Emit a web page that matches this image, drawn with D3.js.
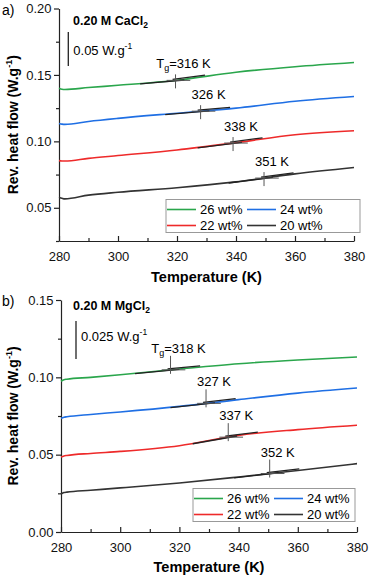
<!DOCTYPE html>
<html>
<head>
<meta charset="utf-8">
<script src="https://cdn.jsdelivr.net/npm/d3@7"></script>
<style>
  body { margin: 0; background: #fff; }
  svg { font-family: 'Liberation Sans', Arial, sans-serif; }
</style>
</head>
<body>
<script>
// temperatures (K) where the scans are sampled
const temps = [280, 281, 282, 290, 300, 320, 340, 360, 380];
const tempTicks = [280, 300, 320, 340, 360, 380];
const tempMinor = [290, 310, 330, 350, 370];
const seriesNames = ['26 wt%', '24 wt%', '22 wt%', '20 wt%'];
const seriesColors = ['#2aa64c', '#1f6fe4', '#ee2a2a', '#333333'];

// panel a) 0.20 M CaCl2, rev. heat flow (W/g)
const ca26 = [0.1400, 0.1392, 0.1390, 0.1405, 0.1422, 0.1460, 0.1520, 0.1562, 0.1594];
const ca24 = [0.1135, 0.1130, 0.1128, 0.1150, 0.1173, 0.1212, 0.1250, 0.1302, 0.1338];
const ca22 = [0.0855, 0.0852, 0.0852, 0.0872, 0.0893, 0.0935, 0.0990, 0.1050, 0.1080];
const ca20 = [0.0580, 0.0572, 0.0567, 0.0595, 0.0617, 0.0651, 0.0695, 0.0755, 0.0803];
const caTg = [316, 326, 338, 351];
const caCross = [319.5, 328, 339, 349.5];
const caTicks = [0.05, 0.10, 0.15, 0.20];
const caMinor = [0.025, 0.075, 0.125, 0.175];

// panel b) 0.20 M MgCl2
const mg26 = [0.0975, 0.0985, 0.0988, 0.1000, 0.1017, 0.1054, 0.1088, 0.1112, 0.1131];
const mg24 = [0.0735, 0.0742, 0.0745, 0.0760, 0.0776, 0.0812, 0.0856, 0.0898, 0.0931];
const mg22 = [0.0485, 0.0492, 0.0495, 0.0508, 0.0521, 0.0558, 0.0625, 0.0662, 0.0690];
const mg20 = [0.0245, 0.0255, 0.0258, 0.0270, 0.0285, 0.0317, 0.0356, 0.0398, 0.0442];
const mgTg = [318, 327, 337, 352];
const mgCross = [317, 329, 336.5, 350.5];
const mgTicks = [0.00, 0.05, 0.10, 0.15];
const mgMinor = [0.025, 0.075, 0.125];

const svg = d3.select('body').append('svg')
  .attr('width', 370)
  .attr('height', 579);

// draw one DSC panel
function drawPanel(cfg) {
  const x = d3.scaleLinear().domain([280, 380]).range([cfg.left, cfg.right]);
  const y = d3.scaleLinear().domain(cfg.domain).range([cfg.bottom, cfg.top]);
  const g = svg.append('g');

  // y axis, major ticks outward
  const yAxis = g.append('g').attr('transform', `translate(${cfg.left},0)`)
    .call(d3.axisLeft(y).tickValues(cfg.yTicks).tickFormat(d3.format('.2f'))
      .tickSize(5).tickSizeOuter(0).tickPadding(2.5));
  yAxis.append('g')
    .call(d3.axisLeft(y).tickValues(cfg.yMinor).tickFormat('').tickSize(3).tickSizeOuter(0))
    .select('.domain').remove();

  // x axis, ticks inward
  const xAxis = g.append('g').attr('transform', `translate(0,${cfg.bottom})`)
    .call(d3.axisBottom(x).tickValues(tempTicks).tickFormat(d3.format('d'))
      .tickSize(-5).tickSizeOuter(0).tickPadding(11));
  xAxis.append('g')
    .call(d3.axisBottom(x).tickValues(tempMinor).tickFormat('').tickSize(-3).tickSizeOuter(0))
    .select('.domain').remove();

  g.selectAll('.tick text').attr('font-size', 13).attr('fill', '#111')
    .attr('font-family', "'Liberation Sans', Arial, sans-serif");
  g.selectAll('.domain, .tick line').attr('stroke', '#222').attr('stroke-width', 1.2);

  // axis titles
  g.append('text')
    .attr('x', (cfg.left + cfg.right) / 2)
    .attr('y', cfg.bottom + cfg.xTitleGap)
    .attr('text-anchor', 'middle')
    .attr('font-size', 14.5).attr('font-weight', 'bold')
    .text('Temperature (K)');

  const yt = g.append('text')
    .attr('transform', `translate(18,${(cfg.top + cfg.bottom) / 2}) rotate(-90)`)
    .attr('text-anchor', 'middle')
    .attr('font-size', 14).attr('font-weight', 'bold');
  yt.append('tspan').text('Rev. heat flow (W.g');
  yt.append('tspan').attr('font-size', 9).attr('dy', -6).text('-1');
  yt.append('tspan').attr('dy', 6).text(')');

  g.append('text').attr('x', 2).attr('y', cfg.top + 6)
    .attr('font-size', 14).text(cfg.letter);

  // salt title
  const tt = g.append('text').attr('x', 73).attr('y', cfg.titleY)
    .attr('font-size', 12.5).attr('font-weight', 'bold');
  tt.append('tspan').text(cfg.title);
  tt.append('tspan').attr('font-size', 8.5).attr('dy', 3).text('2');

  // scale bar
  g.append('line')
    .attr('x1', cfg.barX).attr('x2', cfg.barX)
    .attr('y1', cfg.barTop).attr('y2', cfg.barTop + cfg.barLen)
    .attr('stroke', '#222').attr('stroke-width', 1.3);
  const bt = g.append('text').attr('x', cfg.barX + 5).attr('y', cfg.barTop + cfg.barTextDy)
    .attr('font-size', 13);
  bt.append('tspan').text(cfg.barText);
  bt.append('tspan').attr('font-size', 8.5).attr('dy', -6).text('-1');

  const line = d3.line()
    .x((d) => x(d[0]))
    .y((d) => y(d[1]))
    .curve(d3.curveMonotoneX);

  cfg.series.forEach((vals, i) => {
    g.append('path')
      .attr('d', line(temps.map((t, k) => [t, vals[k]])))
      .attr('fill', 'none')
      .attr('stroke', seriesColors[i])
      .attr('stroke-width', 1.6);
  });

  // tangents, cross and Tg labels
  cfg.series.forEach((vals, i) => {
    const f = d3.scaleLinear().domain(temps).range(vals);
    const c = cfg.cross[i];
    const v = f(c);
    const s1 = (v - f(c - 12)) / 12;
    const s2 = (f(c + 10) - v) / 10;
    g.append('line')
      .attr('x1', x(c - 12)).attr('y1', y(v - s1 * 12) + 0.4)
      .attr('x2', x(c + 3)).attr('y2', y(v + s1 * 3) + 0.4)
      .attr('stroke', '#222').attr('stroke-width', 1.3);
    g.append('line')
      .attr('x1', x(c - 1)).attr('y1', y(v - s2) - 1.3)
      .attr('x2', x(c + 10)).attr('y2', y(v + s2 * 10) - 1.3)
      .attr('stroke', '#222').attr('stroke-width', 1.3);
    g.append('line')
      .attr('x1', x(c)).attr('x2', x(c))
      .attr('y1', y(v) - cfg.tickUp).attr('y2', y(v) + cfg.tickDown)
      .attr('stroke', '#555').attr('stroke-width', 1);
    g.append('line')
      .attr('x1', x(c - 3)).attr('x2', x(c + 5))
      .attr('y1', y(v)).attr('y2', y(v))
      .attr('stroke', '#555').attr('stroke-width', 1);

    const lab = g.append('text')
      .attr('x', x(c) + 8)
      .attr('y', y(v) - cfg.labelGap)
      .attr('text-anchor', 'middle')
      .attr('font-size', 13);
    if (i === 0) {
      lab.append('tspan').text('T');
      lab.append('tspan').attr('font-size', 9).attr('dy', 3).text('g');
      lab.append('tspan').attr('dy', -3).text(`=${cfg.tg[i]} K`);
    } else {
      lab.text(`${cfg.tg[i]} K`);
    }
  });

  // legend, two columns
  const lg = g.append('g').attr('transform', `translate(${cfg.legX},${cfg.legY})`);
  lg.append('rect')
    .attr('width', cfg.legW).attr('height', 33)
    .attr('fill', '#fff').attr('stroke', '#999').attr('stroke-width', 1);
  seriesNames.forEach((name, i) => {
    const cx = (i % 2) * 80;
    const cy = 10 + Math.floor(i / 2) * 16;
    lg.append('line')
      .attr('x1', cx + 1).attr('x2', cx + 30)
      .attr('y1', cy).attr('y2', cy)
      .attr('stroke', seriesColors[i]).attr('stroke-width', 1.6);
    lg.append('text')
      .attr('x', cx + 34).attr('y', cy + 4.6)
      .attr('font-size', 13)
      .text(name);
  });
}

drawPanel({
  letter: 'a)',
  left: 59, right: 354, top: 8.5, bottom: 241,
  domain: [0.025, 0.20], yTicks: caTicks, yMinor: caMinor,
  series: [ca26, ca24, ca22, ca20], tg: caTg, cross: caCross,
  xTitleGap: 41,
  title: '0.20 M CaCl', titleY: 25,
  barX: 68.3, barTop: 32, barLen: 34, barText: '0.05 W.g', barTextDy: 23,
  tickUp: 6, tickDown: 8, labelGap: 12,
  legX: 166, legY: 199.5, legW: 194
});

drawPanel({
  letter: 'b)',
  left: 61, right: 357, top: 300, bottom: 532,
  domain: [0.00, 0.15], yTicks: mgTicks, yMinor: mgMinor,
  series: [mg26, mg24, mg22, mg20], tg: mgTg, cross: mgCross,
  xTitleGap: 40,
  title: '0.20 M MgCl', titleY: 310,
  barX: 76, barTop: 321, barLen: 38, barText: '0.025 W.g', barTextDy: 20,
  tickUp: 14, tickDown: 4, labelGap: 17,
  legX: 193, legY: 488.5, legW: 162
});
</script>
</body>
</html>
